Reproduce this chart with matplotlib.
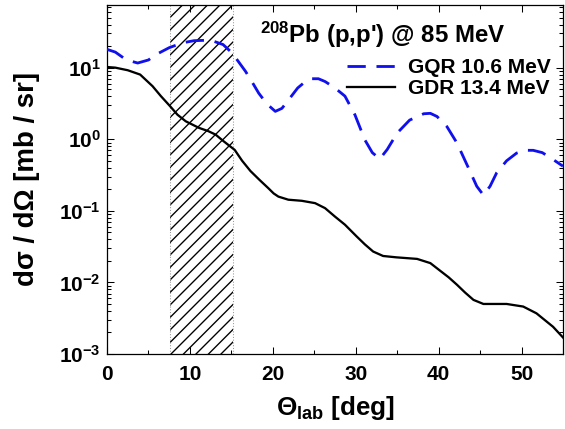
import numpy as np
import matplotlib
matplotlib.use('Agg')
import matplotlib.pyplot as plt
from matplotlib.ticker import FixedLocator, LogLocator, FuncFormatter, NullFormatter

plt.rcParams['font.family'] = ['Liberation Sans', 'DejaVu Sans']
plt.rcParams['font.weight'] = 'bold'
plt.rcParams['axes.labelweight'] = 'bold'
plt.rcParams['mathtext.fontset'] = 'custom'
plt.rcParams['mathtext.rm'] = 'Liberation Sans'
plt.rcParams['mathtext.bf'] = 'Liberation Sans:bold'
plt.rcParams['mathtext.it'] = 'Liberation Sans:italic'
plt.rcParams['hatch.linewidth'] = 1.3

# ===== データ =====
gqr_deg = [0.0, 1.0, 2.3, 3.7, 5.0, 5.9, 7.5, 9.1, 10.5, 11.9, 12.9, 14.0, 15.1, 16.0, 16.7,
           17.5, 18.3, 19.3, 20.3, 21.1, 21.9, 23.0, 24.0, 24.7, 25.5, 26.3, 27.5, 28.7,
           29.9, 31.1, 32.0, 32.9, 33.8, 35.0, 36.5, 38.2, 39.0, 39.8, 41.0, 42.2, 43.5,
           44.6, 45.4, 46.2, 47.0, 48.2, 49.4, 50.4, 51.4, 52.5, 53.5, 55.0]
gqr_val = [18.0, 16.5, 12.9, 11.6, 12.8, 15.2, 19.0, 22.2, 23.8, 24.1, 23.3, 21.0, 16.0, 11.5,
           8.9, 6.3, 4.4, 3.1, 2.45, 2.7, 3.55, 5.2, 6.5, 7.0, 7.0, 6.4, 5.2, 4.0,
           2.2, 0.98, 0.65, 0.53, 0.72, 1.22, 1.85, 2.27, 2.3, 2.08, 1.5, 0.89, 0.42,
           0.22, 0.166, 0.22, 0.34, 0.5, 0.64, 0.70, 0.70, 0.65, 0.55, 0.42]

gdr_deg = [0.0, 1.0, 2.5, 4.0, 5.5, 6.5, 7.6, 8.5, 9.5, 11.1, 12.2, 13.1, 14.0, 15.4, 16.3,
           17.3, 18.4, 19.46, 20.1, 20.67, 21.87, 23.5, 25.1, 26.3, 27.5, 28.7, 30.1, 31.1,
           32.1, 33.3, 34.9, 37.4, 39.0, 40.2, 41.2, 42.2, 43.2, 44.2, 45.4, 48.2, 50.2,
           51.8, 53.8, 55.0]
gdr_val = [10.2, 10.0, 9.2, 8.0, 5.5, 4.0, 2.9, 2.2, 1.78, 1.44, 1.3, 1.16, 0.95, 0.71, 0.5,
           0.36, 0.27, 0.207, 0.175, 0.158, 0.143, 0.138, 0.128, 0.109, 0.083, 0.064, 0.044, 0.034,
           0.027, 0.0234, 0.0224, 0.0213, 0.0186, 0.0145, 0.0118, 0.0093, 0.0072, 0.0057, 0.005,
           0.005, 0.0046, 0.0037, 0.0024, 0.0017]

shade_range = [7.6, 15.2]

title_text = r"$\mathbf{^{208}}$Pb (p,p') @ 85 MeV"
labels = ['GQR 10.6 MeV', 'GDR 13.4 MeV']

# ===== 図示 =====
fig = plt.figure(figsize=(565 / 75, 429 / 75), dpi=75)
ax = fig.add_axes([107 / 565, 75 / 429, 456 / 565, 349 / 429])

ax.axvspan(shade_range[0], shade_range[1], facecolor='white', edgecolor='black',
           hatch='//', linewidth=0, zorder=1)
for xv in shade_range:
    ax.axvline(xv, color='#999999', linestyle=':', linewidth=1.0, zorder=1.5)

ax.plot(gqr_deg, gqr_val, color='#1010ee', linestyle=(0, (6.5, 3.8)), linewidth=2.7,
        label=labels[0], zorder=3)
ax.plot(gdr_deg, gdr_val, color='black', linewidth=2.2, label=labels[1], zorder=3)

ax.set_yscale('log')
ax.set_xlim(0, 55)
ax.set_ylim(1e-3, 75)

ax.xaxis.set_major_locator(FixedLocator([0, 10, 20, 30, 40, 50]))
ax.xaxis.set_minor_locator(FixedLocator([5, 15, 25, 35, 45, 55]))
ax.yaxis.set_major_locator(LogLocator(base=10, numticks=10))
ax.yaxis.set_minor_locator(LogLocator(base=10, subs=np.arange(2, 10), numticks=10))
ax.yaxis.set_major_formatter(FuncFormatter(lambda v, p: r'$\mathbf{10^{%d}}$' % round(np.log10(v))))
ax.yaxis.set_minor_formatter(NullFormatter())

ax.tick_params(which='both', direction='in', top=True, right=True, labelsize=20, width=1.0)
ax.tick_params(which='major', length=7)
ax.tick_params(which='minor', length=4)
ax.tick_params(axis='x', which='major', pad=11)
ax.tick_params(axis='y', which='major', pad=6)
for lab in ax.get_xticklabels() + ax.get_yticklabels():
    lab.set_fontweight('bold')
for s in ax.spines.values():
    s.set_linewidth(1.2)

ax.set_xlabel(r'$\Theta_{\mathbf{lab}}$ [deg]', fontsize=25, fontweight='bold', labelpad=9)
ax.set_ylabel('dσ / dΩ [mb / sr]', fontsize=26.5, fontweight='bold', labelpad=18)

ax.text(0.605, 0.915, title_text, transform=ax.transAxes, ha='center', va='center',
        fontsize=23, fontweight='bold')
ax.legend(loc='upper right', bbox_to_anchor=(1.0, 0.884), frameon=False, fontsize=20,
          handlelength=2.3, handletextpad=0.6, labelspacing=0.1, borderaxespad=0.2)

plt.savefig('out.png', dpi=75)
